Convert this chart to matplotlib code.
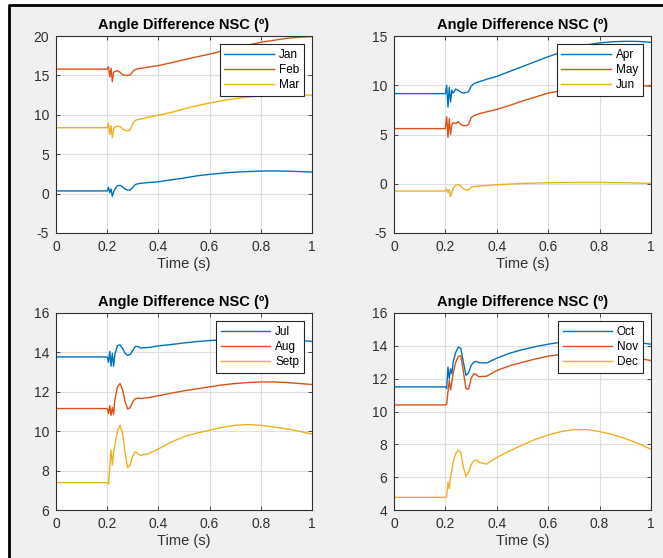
#!/usr/bin/env python3
import matplotlib
matplotlib.use('Agg')
import numpy as np
import matplotlib.pyplot as plt
from matplotlib.patches import Rectangle
from matplotlib.lines import Line2D

plt.rcParams['font.family'] = ['Liberation Sans', 'DejaVu Sans']
plt.rcParams['axes.unicode_minus'] = False

# shared time grid (s)
time = [0, 0.2, 0.205, 0.21, 0.215, 0.22, 0.225, 0.23, 0.24, 0.25, 0.26, 0.27, 0.28, 0.29,
        0.3, 0.31, 0.32, 0.33, 0.36, 0.4, 0.45, 0.5, 0.55, 0.6, 0.65, 0.7, 0.75, 0.8,
        0.85, 0.9, 0.95, 1.0]

jan = [0.34, 0.34, 0.8, 0.1, 0.6, -0.35, 0.2, 0.6, 1.0, 1.05, 0.85, 0.55, 0.45, 0.45,
       0.8, 1.15, 1.25, 1.3, 1.4, 1.5, 1.75, 1.97, 2.25, 2.44, 2.6, 2.72, 2.8, 2.86,
       2.87, 2.85, 2.8, 2.73]
feb = [15.8, 15.8, 16.1, 14.8, 15.9, 14.2, 15.4, 15.5, 15.6, 15.4, 15.1, 15.0, 15.0, 15.05,
       15.5, 15.75, 15.85, 15.9, 16.05, 16.25, 16.6, 17.0, 17.35, 17.7, 18.1, 18.5, 18.85, 19.2,
       19.45, 19.7, 19.85, 19.92]
mar = [8.36, 8.36, 8.9, 7.5, 8.6, 7.1, 8.2, 8.4, 8.55, 8.5, 8.2, 8.0, 8.0, 8.05,
       8.9, 9.3, 9.4, 9.45, 9.7, 9.95, 10.3, 10.75, 11.15, 11.5, 11.8, 12.05, 12.25, 12.4,
       12.45, 12.5, 12.5, 12.5]

apr = [9.15, 9.15, 10.0, 7.8, 9.8, 8.3, 9.5, 9.2, 9.6, 9.5, 9.3, 9.2, 9.25, 9.35,
       9.9, 10.15, 10.25, 10.35, 10.6, 10.9, 11.4, 11.9, 12.4, 12.9, 13.35, 13.8, 14.1, 14.3,
       14.42, 14.46, 14.45, 14.36]
may = [5.6, 5.6, 6.8, 4.7, 6.6, 5.0, 6.0, 6.2, 6.1, 6.3, 6.0, 5.9, 5.9, 6.0,
       6.7, 6.9, 7.0, 7.1, 7.3, 7.55, 7.95, 8.4, 8.8, 9.2, 9.45, 9.7, 9.85, 9.97,
       10.0, 10.0, 9.97, 9.9]
jun = [-0.74, -0.74, -0.55, -0.9, -0.6, -1.35, -0.9, -0.5, -0.15, -0.07, -0.25, -0.5, -0.62, -0.64,
       -0.35, -0.28, -0.26, -0.24, -0.18, -0.1, -0.03, 0.03, 0.07, 0.1, 0.12, 0.13, 0.13, 0.13,
       0.12, 0.1, 0.07, 0.03]

jul = [13.77, 13.77, 13.5, 14.05, 13.3, 13.95, 13.3, 13.9, 14.35, 14.38, 14.2, 13.95, 13.85, 13.9,
       14.1, 14.3, 14.3, 14.22, 14.25, 14.33, 14.4, 14.48, 14.55, 14.6, 14.64, 14.67, 14.69, 14.69,
       14.68, 14.65, 14.6, 14.56]
aug = [11.15, 11.15, 10.9, 11.3, 10.8, 11.2, 10.85, 11.6, 12.25, 12.42, 12.1, 11.5, 11.12, 11.2,
       11.5, 11.65, 11.68, 11.66, 11.7, 11.8, 11.93, 12.05, 12.15, 12.25, 12.35, 12.42, 12.47, 12.5,
       12.5, 12.47, 12.42, 12.37]
setp = [7.39, 7.39, 7.3, 8.2, 9.05, 8.3, 8.9, 9.3, 10.0, 10.3, 9.9, 8.9, 8.15, 8.3,
        8.75, 8.95, 8.85, 8.78, 8.85, 9.1, 9.45, 9.72, 9.9, 10.05, 10.2, 10.3, 10.34, 10.3,
        10.22, 10.12, 10.0, 9.85]

oct_ = [11.5, 11.5, 11.4, 12.7, 12.0, 12.6, 12.3, 13.0, 13.6, 13.92, 13.85, 13.0, 12.2, 12.35,
        12.8, 13.0, 13.05, 12.98, 12.95, 13.25, 13.55, 13.77, 13.95, 14.1, 14.22, 14.32, 14.37, 14.38,
        14.35, 14.28, 14.2, 14.1]
nov = [10.4, 10.4, 10.45, 11.2, 11.9, 11.3, 11.8, 12.3, 13.0, 13.35, 13.4, 12.4, 11.4, 11.35,
       12.0, 12.3, 12.25, 12.12, 12.15, 12.5, 12.78, 13.0, 13.2, 13.37, 13.48, 13.55, 13.58, 13.57,
       13.5, 13.4, 13.25, 13.1]
dec = [4.77, 4.77, 4.8, 5.7, 5.3, 6.0, 6.4, 6.9, 7.45, 7.65, 7.5, 6.6, 6.05, 6.3,
       6.75, 7.0, 7.05, 6.9, 6.8, 7.2, 7.6, 7.96, 8.3, 8.57, 8.78, 8.9, 8.9, 8.78,
       8.6, 8.35, 8.05, 7.7]

xticks = [0, 0.2, 0.4, 0.6, 0.8, 1]
xtick_labels = ['0', '0.2', '0.4', '0.6', '0.8', '1']

panels = [
    ([jan, feb, mar], ['Jan', 'Feb', 'Mar'], (-5, 20), 5),
    ([apr, may, jun], ['Apr', 'May', 'Jun'], (-5, 15), 5),
    ([jul, aug, setp], ['Jul', 'Aug', 'Setp'], (6, 16), 2),
    ([oct_, nov, dec], ['Oct', 'Nov', 'Dec'], (4, 16), 2),
]

colors = ['#0072BD', '#D95319', '#EDB120']
W, H = 663, 558
rects = [(56, 36, 312, 233), (394, 36, 651, 233), (56, 313, 312, 510), (394, 313, 651, 510)]

fig = plt.figure(figsize=(W / 100, H / 100), dpi=100)
fig.patch.set_facecolor('white')
# grey window area with a dark frame on the top and left
fig.patches.append(Rectangle((9 / W, 0), 1, 1 - 5 / H, transform=fig.transFigure,
                             facecolor='#f0f0f0', edgecolor='none', zorder=-10))
fig.lines.append(Line2D([9 / W, 9 / W, 1], [0, 1 - 5 / H, 1 - 5 / H], transform=fig.transFigure,
                        color='black', linewidth=2))

for (series, names, ylim, ystep), (l, t, r, b) in zip(panels, rects):
    ax = fig.add_axes([l / W, 1 - b / H, (r - l) / W, (b - t) / H])
    for s, name, c in zip(series, names, colors):
        ax.plot(time, s, color=c, linewidth=1.0, label=name)
    ax.set_xlim(0, 1)
    ax.set_ylim(*ylim)
    ax.set_xticks(xticks)
    ax.set_xticklabels(xtick_labels)
    ax.set_yticks(np.arange(ylim[0], ylim[1] + 0.1, ystep))
    ax.grid(True, color='#dfdfdf', linewidth=0.8)
    ax.set_axisbelow(True)
    ax.tick_params(direction='in', length=3, width=0.6, top=True, right=True,
                   labelsize=10, colors='#303030', pad=5)
    for sp in ax.spines.values():
        sp.set_color('#303030')
        sp.set_linewidth(0.8)
    ax.set_title('Angle Difference NSC (º)', fontsize=10.5, fontweight='bold', pad=5, color='black')
    ax.set_xlabel('Time (s)', fontsize=10.5, color='#303030', labelpad=2)
    leg = ax.legend(loc='upper right', fontsize=8.5, fancybox=False, framealpha=1,
                    edgecolor='#262626', handlelength=4.2, borderaxespad=0.7,
                    labelspacing=0.25, handletextpad=0.4, borderpad=0.4)
    leg.get_frame().set_linewidth(0.8)

fig.savefig('out.png', dpi=100)
